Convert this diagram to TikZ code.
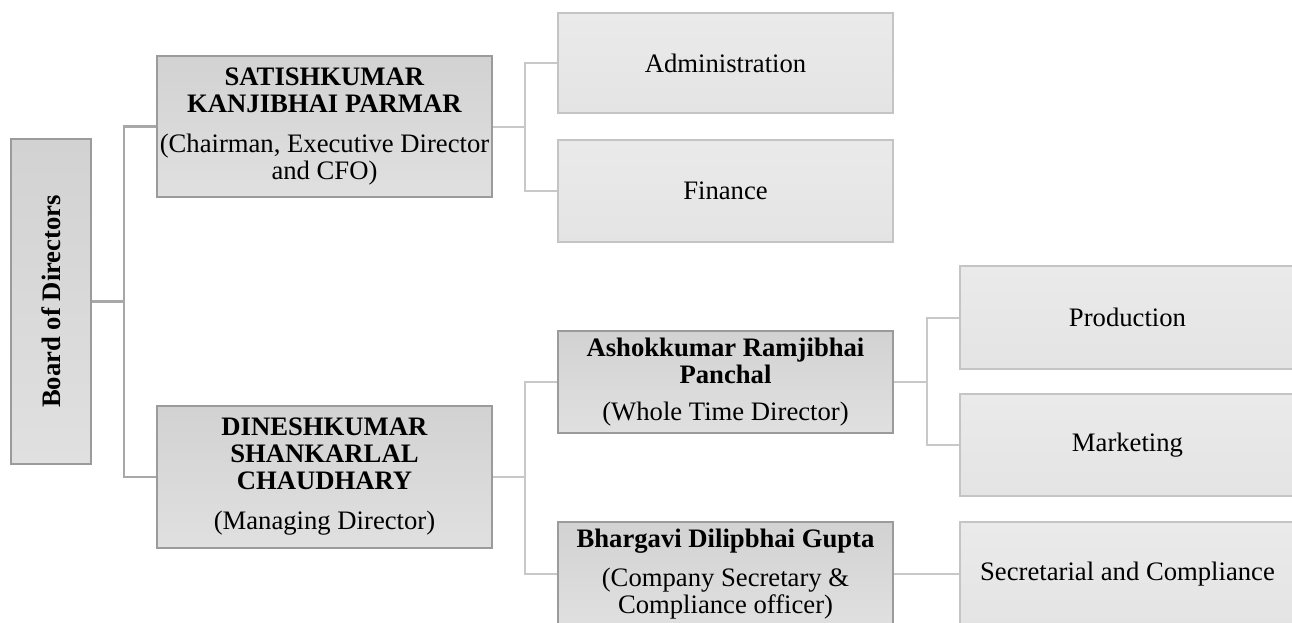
\documentclass[tikz,border=0pt]{standalone}
\usepackage{fontspec}
\setmainfont{Liberation Serif}
\definecolor{lvAtop}{RGB}{210,210,210}
\definecolor{lvAbot}{RGB}{224,224,224}
\definecolor{lvAline}{RGB}{155,155,155}
\definecolor{lvBtop}{RGB}{234,234,234}
\definecolor{lvBbot}{RGB}{228,228,228}
\definecolor{lvBline}{RGB}{196,196,196}
\definecolor{connA}{RGB}{168,168,168}
\definecolor{connB}{RGB}{200,200,200}
\tikzset{
  basebox/.style={rectangle, inner xsep=2pt, inner ysep=1pt, align=center,
    font=\fontsize{20}{20.25}\selectfont, text=black, line width=0.9pt},
  lvone/.style={basebox, draw=lvAline, top color=lvAtop, bottom color=lvAbot,
    minimum width=251.25pt, minimum height=106pt},
  lvtwo/.style={basebox, draw=lvBline, top color=lvBtop, bottom color=lvBbot,
    minimum width=251.25pt, minimum height=76.5pt},
  boardbox/.style={basebox, draw=lvAline, top color=lvAtop, bottom color=lvAbot,
    minimum width=60pt, minimum height=243.75pt},
  connone/.style={draw=connA, line width=1.7pt},
  conntwo/.style={draw=connB, line width=1.5pt}
}
\begin{document}
\begin{tikzpicture}[x=0.75pt,y=-0.75pt]
\useasboundingbox (0,0) rectangle (1292,622);
\clip (0,0) rectangle (1292,622);
\fill[white] (0,0) rectangle (1292,622);

% level boxes
\node[boardbox] (board) at (51,301.5) {};
\node[rotate=90, font=\fontsize{20}{20.25}\selectfont\bfseries] (boardtxt) at (board.center) {Board of Directors};

\node[lvone, minimum height=105.75pt] (satish) at (324.5,126.5)
  {\textbf{SATISHKUMAR}\\ \textbf{KANJIBHAI PARMAR}\\[9.75pt] (Chairman, Executive Director\\ and CFO)};
\node[lvone, minimum height=106.5pt] (dinesh) at (324.5,477)
  {\textbf{DINESHKUMAR}\\ \textbf{SHANKARLAL}\\ \textbf{CHAUDHARY}\\[9.75pt] (Managing Director)};

\node[lvone, minimum height=76.5pt] (ashok) at (725.5,382)
  {\textbf{Ashokkumar Ramjibhai}\\ \textbf{Panchal}\\[7.5pt] (Whole Time Director)};
\node[lvone, minimum height=78pt] (bhargavi) at (725.5,574)
  {\textbf{Bhargavi Dilipbhai Gupta}\\[9pt] (Company Secretary \&\\ Compliance officer)};

% level two boxes
\node[lvtwo, minimum height=75pt] (admin) at (725.5,63) {Administration};
\node[lvtwo] (finance) at (725.5,191) {Finance};
\node[lvtwo, minimum height=77.25pt] (production) at (1127.5,317.5) {Production};
\node[lvtwo] (marketing) at (1127.5,445) {Marketing};
\node[lvtwo, minimum height=78pt] (secretarial) at (1127.5,574) {Secretarial and Compliance};

% connectors
\coordinate (jboard) at (124,301.5);
\draw[connone] (board.east) -- (jboard);
\draw[connone] (jboard) |- (satish.west);
\draw[connone] (jboard) |- (dinesh.west);

\coordinate (jsatish) at (525,126.5);
\draw[conntwo] (satish.east) -- (jsatish);
\draw[conntwo] (jsatish) |- (admin.west);
\draw[conntwo] (jsatish) |- (finance.west);

\coordinate (jdinesh) at (525,477);
\draw[conntwo] (dinesh.east) -- (jdinesh);
\draw[conntwo] (jdinesh) |- (ashok.west);
\draw[conntwo] (jdinesh) |- (bhargavi.west);

\coordinate (jashok) at (927,382);
\draw[conntwo] (ashok.east) -- (jashok);
\draw[conntwo] (jashok) |- (production.west);
\draw[conntwo] (jashok) |- (marketing.west);

\draw[conntwo] (bhargavi.east) -- (secretarial.west);
\end{tikzpicture}
\end{document}
